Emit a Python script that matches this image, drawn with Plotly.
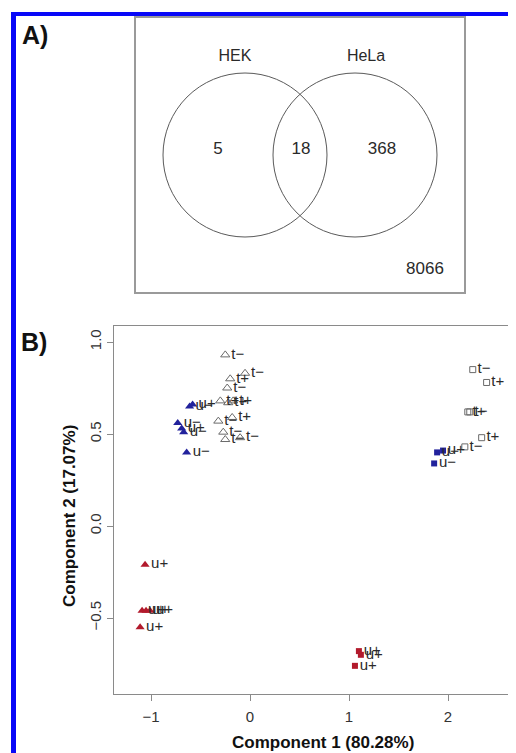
import plotly.graph_objects as go

# ---------------- data ----------------
# Panel A: Venn diagram counts
venn_sets = ["HEK", "HeLa"]
venn_counts = ["5", "18", "368"]      # HEK only, both, HeLa only
venn_outside = "8066"

# Panel B: PCA scores
t_tri_x = [-0.25, -0.20, -0.05, -0.23, -0.30, -0.22, -0.17, -0.32, -0.18, -0.27, -0.25, -0.10]
t_tri_y = [0.93, 0.80, 0.83, 0.75, 0.68, 0.67, 0.68, 0.57, 0.59, 0.51, 0.47, 0.48]
t_tri_lab = ["t−", "t+", "t−", "t−", "t+", "t+", "t+", "t−", "t+", "t−", "t−", "t−"]

u_tri_blue_x = [-0.61, -0.58, -0.73, -0.69, -0.67, -0.64]
u_tri_blue_y = [0.65, 0.66, 0.56, 0.53, 0.51, 0.40]
u_tri_blue_lab = ["u−", "u+", "u−", "u+", "u−", "u−"]

u_tri_red_x = [-1.06, -1.09, -1.05, -1.01, -1.11]
u_tri_red_y = [-0.21, -0.46, -0.46, -0.46, -0.55]
u_tri_red_lab = ["u+", "u+", "u+", "u+", "u+"]

t_sq_x = [2.25, 2.39, 2.20, 2.22, 2.34, 2.17]
t_sq_y = [0.85, 0.78, 0.62, 0.62, 0.48, 0.43]
t_sq_lab = ["t−", "t+", "t+", "t−", "t+", "t−"]

u_sq_blue_x = [1.89, 1.95, 1.86]
u_sq_blue_y = [0.40, 0.41, 0.34]
u_sq_blue_lab = ["u−", "u+", "u−"]

u_sq_red_x = [1.10, 1.12, 1.06]
u_sq_red_y = [-0.68, -0.70, -0.76]
u_sq_red_lab = ["u+", "u+", "u+"]

x_ticks = [-1, 0, 1, 2]
y_ticks = [-0.5, 0.0, 0.5, 1.0]
y_tick_text = ["−0.5", "0.0", "0.5", "1.0"]

# ---------------- style ----------------
PAGE_W, PAGE_H = 516, 753
OFF = 8                      # default body margin of the html page
W, H = PAGE_W - OFF, PAGE_H - OFF
FONT = "Liberation Sans, Arial, Helvetica, sans-serif"
BLUE = "#22229c"
RED = "#b21a2c"
GREY_MK = "#6a6a6a"
TXT = "#2a2a2a"
AX = "#8a8a8a"

def px_x(p):
    return (p - OFF) / W

def px_y(p):
    return 1 - (p - OFF) / H

fig = go.Figure()

def add_group(x, y, lab, symbol, color, size, lw=1):
    fig.add_trace(go.Scatter(
        x=x, y=y, text=lab, mode="markers+text",
        textposition="middle right",
        textfont=dict(family=FONT, size=15, color=TXT),
        marker=dict(symbol=symbol, color=color, size=size,
                    line=dict(color=color, width=lw)),
        cliponaxis=False, showlegend=False, xaxis="x", yaxis="y"))

add_group(t_tri_x, t_tri_y, t_tri_lab, "triangle-up-open", GREY_MK, 8)
add_group(u_tri_blue_x, u_tri_blue_y, u_tri_blue_lab, "triangle-up", BLUE, 8, 0)
add_group(u_tri_red_x, u_tri_red_y, u_tri_red_lab, "triangle-up", RED, 8, 0)
add_group(t_sq_x, t_sq_y, t_sq_lab, "square-open", GREY_MK, 6)
add_group(u_sq_blue_x, u_sq_blue_y, u_sq_blue_lab, "square", BLUE, 6, 0)
add_group(u_sq_red_x, u_sq_red_y, u_sq_red_lab, "square", RED, 6, 0)

# ---------------- panel A (Venn) on its own axes ----------------
BOX_L, BOX_R, BOX_T, BOX_B = 136, 464, 18, 292
circ_cx = [245, 355]
circ_cy = 155
circ_r = 82
count_pos_x = [218, 301, 382]
count_pos_y = 150

fig.add_trace(go.Scatter(
    x=count_pos_x, y=[count_pos_y] * 3, text=venn_counts, mode="text",
    textfont=dict(family=FONT, size=17, color=TXT),
    showlegend=False, xaxis="x2", yaxis="y2", hoverinfo="skip"))
fig.add_trace(go.Scatter(
    x=[235, 366], y=[57, 57], text=venn_sets, mode="text",
    textfont=dict(family=FONT, size=16, color=TXT),
    showlegend=False, xaxis="x2", yaxis="y2", hoverinfo="skip"))
fig.add_trace(go.Scatter(
    x=[425], y=[270], text=[venn_outside], mode="text",
    textfont=dict(family=FONT, size=17, color=TXT),
    showlegend=False, xaxis="x2", yaxis="y2", hoverinfo="skip"))

shapes = []
for cx in circ_cx:
    shapes.append(dict(type="circle", xref="x2", yref="y2",
                       x0=cx - circ_r, x1=cx + circ_r,
                       y0=circ_cy - circ_r, y1=circ_cy + circ_r,
                       line=dict(color="#5a5a5a", width=1)))

# blue frame (top and left)
shapes.append(dict(type="rect", xref="paper", yref="paper",
                   x0=px_x(11), x1=1.0, y0=px_y(16), y1=px_y(12),
                   fillcolor="#0808f8", line=dict(width=0)))
shapes.append(dict(type="rect", xref="paper", yref="paper",
                   x0=px_x(11), x1=px_x(16), y0=0, y1=px_y(12),
                   fillcolor="#0808f8", line=dict(width=0)))

# panel B geometry (page pixels)
PL, PT, PB = 114, 326, 694
x_range = [(PL - 250) / 99, (PAGE_W - 250) / 99]
y_range = [(526 - PB) / 184, (526 - PT) / 184]

def ann(text, x, y, size, angle=0):
    return dict(text=text, x=px_x(x), y=px_y(y), xref="paper", yref="paper",
                xanchor="center", yanchor="middle", showarrow=False,
                textangle=angle, font=dict(family=FONT, size=size, color="#111"))

annotations = [
    ann("<b>A)</b>", 35, 35, 25),
    ann("<b>B)</b>", 34, 342, 25),
    ann("<b>Component 1 (80.28%)</b>", 323, 742, 17),
    ann("<b>Component 2 (17.07%)</b>", 70, 516, 17, -90),
]

fig.update_layout(
    width=W, height=H,
    margin=dict(l=0, r=0, t=0, b=0),
    paper_bgcolor="white", plot_bgcolor="white",
    shapes=shapes, annotations=annotations,
    xaxis=dict(domain=[px_x(PL), 1.0], range=x_range,
               tickvals=x_ticks, ticks="outside", ticklen=6, tickwidth=1,
               tickcolor=AX, showline=True, mirror=True, linecolor=AX,
               linewidth=1.3, showgrid=False, zeroline=False,
               ticklabelstandoff=3,
               tickfont=dict(family=FONT, size=15, color="#333")),
    yaxis=dict(domain=[px_y(PB), px_y(PT)], range=y_range,
               tickvals=y_ticks, ticktext=y_tick_text, tickangle=-90,
               ticks="outside", ticklen=6, tickwidth=1, tickcolor=AX,
               showline=True, mirror=False, linecolor=AX, linewidth=1.3,
               showgrid=False, zeroline=False, ticklabelstandoff=0,
               tickfont=dict(family=FONT, size=15, color="#333")),
    xaxis2=dict(domain=[px_x(BOX_L), px_x(BOX_R)], range=[BOX_L, BOX_R],
                showticklabels=False, ticks="", showgrid=False, zeroline=False,
                showline=True, mirror=True, linecolor="#9a9a9a", linewidth=1.5,
                anchor="y2", fixedrange=True),
    yaxis2=dict(domain=[px_y(BOX_B), px_y(BOX_T)], range=[BOX_B, BOX_T],
                showticklabels=False, ticks="", showgrid=False, zeroline=False,
                showline=True, mirror=True, linecolor="#9a9a9a", linewidth=1.5,
                anchor="x2", fixedrange=True),
)

fig.write_html("out.html")
